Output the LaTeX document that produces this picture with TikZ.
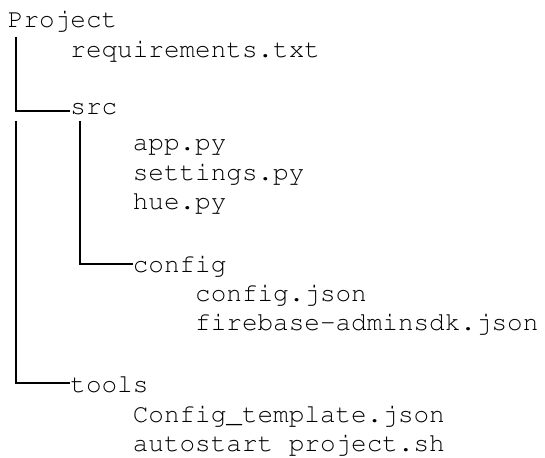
\documentclass[tikz,border=0pt]{standalone}
\usepackage[T1]{fontenc}
\begin{document}
\begin{tikzpicture}[x=1pt,y=-1pt,
  txt/.style={anchor=base west,inner sep=0pt,outer sep=0pt,font=\fontencoding{T1}\fontfamily{pcr}\fontsize{26}{30}\selectfont},
  tree/.style={draw=black,line width=2pt,line cap=butt}]
\useasboundingbox (0,0) rectangle (545,457);
\node[txt] (project) at (8,28) {Project};
\node[txt] (req) at (70.4,58) {requirements.txt};
\node[txt] (src) at (70.4,115) {src};
\node[txt] (app) at (132.8,150) {app.py};
\node[txt] (settings) at (132.8,180) {settings.py};
\node[txt] (hue) at (132.8,209) {hue.py};
\node[txt] (config) at (132.8,272) {config};
\node[txt] (configjson) at (195.2,301) {config.json};
\node[txt] (firebase) at (195.2,330) {firebase-adminsdk.json};
\node[txt] (tools) at (70.4,392) {tools};
\node[txt] (ctemplate) at (132.8,422) {Config\_template.json};
\node[txt] (autostart) at (132.8,451) {autostart project.sh};
\coordinate (trunkA) at (16,37);
\coordinate (trunkB) at (16,121);
\coordinate (srcTrunk) at (80,121);
\draw[tree] (trunkA) |- ([yshift=3.5pt]src.base west);
\draw[tree] (trunkB) |- ([yshift=9pt]tools.base west);
\draw[tree] (srcTrunk) |- ([yshift=8pt]config.base west);
\end{tikzpicture}
\end{document}
